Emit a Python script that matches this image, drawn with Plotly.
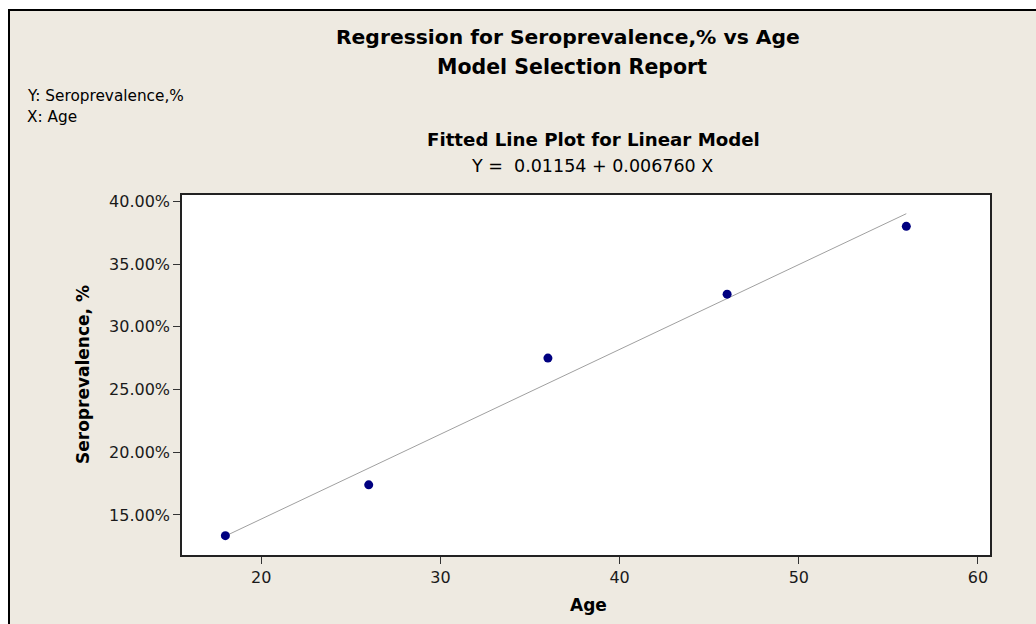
import plotly.graph_objects as go

# Data
age = [18, 26, 36, 46, 56]
seroprevalence = [0.1335, 0.174, 0.275, 0.326, 0.380]
intercept = 0.01154
slope = 0.006760
x_ticks = [20, 30, 40, 50, 60]
y_ticks = [0.15, 0.20, 0.25, 0.30, 0.35, 0.40]

FONT = "DejaVu Sans"
BG = "#EEEAE1"

fit_x = [min(age), max(age)]
fit_y = [intercept + slope * v for v in fit_x]

fig = go.Figure()
fig.add_trace(go.Scatter(x=fit_x, y=fit_y, mode="lines",
                         line=dict(color="#A0A0A0", width=1), hoverinfo="skip"))
fig.add_trace(go.Scatter(x=age, y=seroprevalence, mode="markers",
                         marker=dict(color="#000080", size=9)))

L, R, T, B = 182, 990, 195, 555
W, H = 1036, 624
def px(x):
    return (x - L) / (R - L)
def py(y):
    return (B - y) / (B - T)

annotations = [
    dict(text="<b>Regression for Seroprevalence,% vs Age</b>", x=px(568), y=py(37),
         font=dict(size=20.3)),
    dict(text="<b>Model Selection Report</b>", x=px(572), y=py(67), font=dict(size=20.5)),
    dict(text="<b>Fitted Line Plot for Linear Model</b>", x=px(593), y=py(139),
         font=dict(size=18.2)),
    dict(text="Y =  0.01154 + 0.006760 X", x=px(592), y=py(166), font=dict(size=17.5)),
    dict(text="Y: Seroprevalence,%", x=px(25), y=py(96), xanchor="left", font=dict(size=15.3)),
    dict(text="X: Age", x=px(25), y=py(117), xanchor="left", font=dict(size=15.3)),
    dict(text="<b>Age</b>", x=px(588), y=py(605), font=dict(size=17)),
    dict(text="<b>Seroprevalence, %</b>", x=px(83), y=0.5, textangle=-90, font=dict(size=17)),
]
for a in annotations:
    a.setdefault("xanchor", "center")
    a.update(xref="paper", yref="paper", yanchor="middle", showarrow=False)
    a["font"].update(family=FONT, color="#000000")

shapes = [
    # white strips outside the frame
    dict(type="rect", xref="paper", yref="paper", x0=px(-5), x1=px(W + 5), y0=py(-5), y1=py(9),
         fillcolor="white", line=dict(width=0)),
    dict(type="rect", xref="paper", yref="paper", x0=px(-5), x1=px(8), y0=py(-5), y1=py(W),
         fillcolor="white", line=dict(width=0)),
    # frame border
    dict(type="rect", xref="paper", yref="paper", x0=px(9), x1=px(W + 10), y0=py(10), y1=py(H + 10),
         fillcolor="rgba(0,0,0,0)", line=dict(color="black", width=2)),
]

fig.update_layout(
    width=W, height=H,
    margin=dict(l=L, r=W - R, t=T, b=H - B),
    paper_bgcolor=BG, plot_bgcolor="white",
    showlegend=False,
    font=dict(family=FONT, size=16, color="#1a1a1a"),
    annotations=annotations, shapes=shapes,
)
fig.update_xaxes(range=[15.58, 60.67], tickvals=x_ticks, ticks="outside", ticklen=7,
                 tickcolor="#333", showgrid=False, zeroline=False, showline=True, mirror=True,
                 linecolor="#222", linewidth=1.5, tickfont=dict(size=16))
fig.update_yaxes(range=[0.1181, 0.405], tickvals=y_ticks, tickformat=".2%", ticks="outside",
                 ticklen=7, tickcolor="#333", showgrid=False, zeroline=False, showline=True,
                 mirror=True, linecolor="#222", linewidth=1.5, tickfont=dict(size=16))

fig.write_html("out.html")
